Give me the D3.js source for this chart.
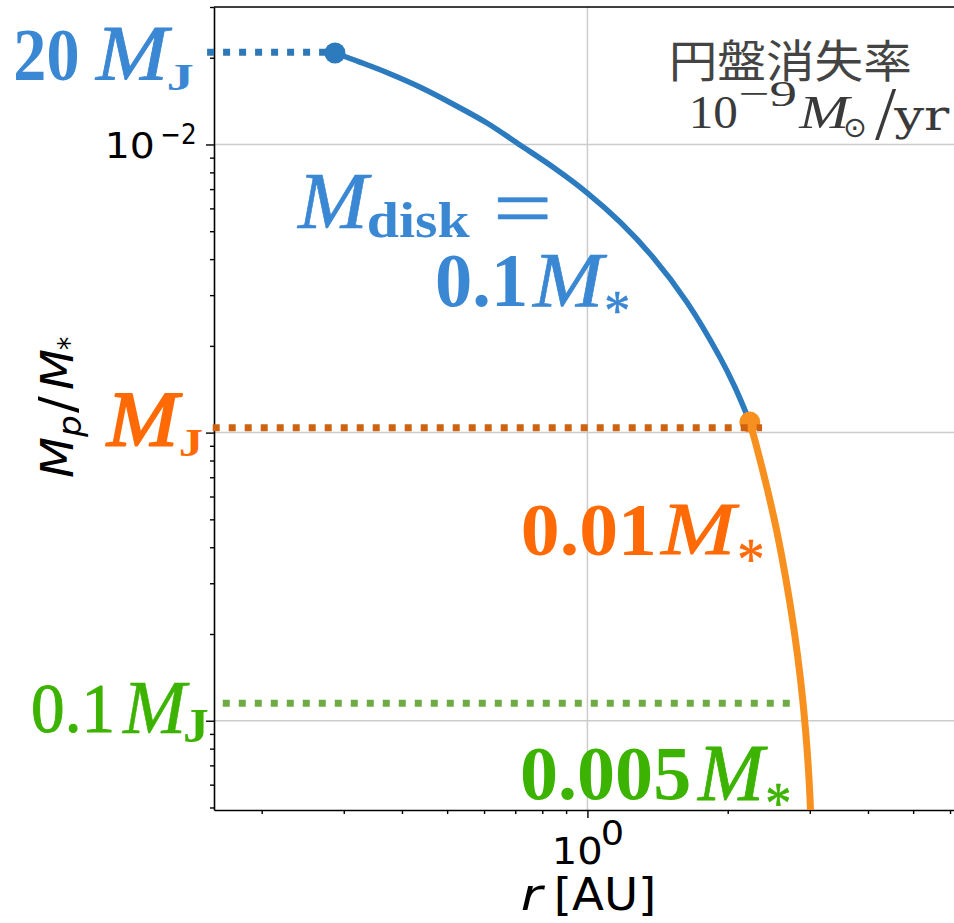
<!DOCTYPE html>
<html><head><meta charset="utf-8">
<script src="https://cdn.jsdelivr.net/npm/d3@7"></script>
<style>html,body{margin:0;padding:0;background:#fff;} svg{display:block}</style>
</head><body>
<svg id="chart" width="954" height="923"></svg>
<script>
// Planet track while the disk still holds 0.1 M* (r in AU, Mp/M*)
const blueR = [0.2873, 0.3248, 0.3711, 0.4368, 0.5142, 0.6088, 0.7167, 0.8430, 1.000, 1.175, 1.381, 1.634, 1.923, 2.072, 2.231];
const blueM = [0.02077, 0.01932, 0.01778, 0.01583, 0.01382, 0.01187, 0.00996, 0.008352, 0.006785, 0.005381, 0.004068, 0.002840, 0.001830, 0.001440, 0.001088];
// Continuation of the track once the disk has dropped to 0.01 M*
const orangeR = [2.231, 2.317, 2.435, 2.546, 2.668, 2.776, 2.867, 2.938, 2.990, 3.012];
const orangeM = [0.001088, 8.70e-4, 6.32e-4, 4.59e-4, 3.08e-4, 2.065e-4, 1.385e-4, 9.29e-5, 6.23e-5, 4.82e-5];

// Reference planet masses, drawn as dotted guides
const levelNames = ["20MJ", "MJ", "0.1MJ"];
const levelValues = [0.0209, 1.04e-3, 1.15e-4];
const levelStartR = [0.1527, 0.157, 0.165];
const levelEndR = [0.288, 2.37, 2.72];

// Axis ticks
const yMajorTicks = [1e-2, 1e-3, 1e-4];
const yTickLabels = ["10", "−2"]; // only 10^-2 is labelled
const xMajorTicks = [1];
const xTickLabels = ["10", "0"];

const W = 954, H = 923;
const svg = d3.select("#chart");
const plotLeft = 214, plotTop = 7, plotBottom = 810;

const x = d3.scaleLog().domain([0.158, 7]).range([plotLeft, plotLeft + Math.log10(7 / 0.158) * 466]);
const y = d3.scaleLog().domain([4.9e-5, 3.0e-2]).range([plotBottom, plotTop]);

// minor tick positions: 2..9 within each decade
function minorTicks(scale) {
  const [a, b] = scale.domain();
  const out = [];
  for (let e = Math.floor(Math.log10(a)); e <= Math.ceil(Math.log10(b)); e++) {
    for (let k = 2; k <= 9; k++) {
      const v = k * Math.pow(10, e);
      if (v >= a && v <= b) out.push(v);
    }
  }
  return out;
}

svg.append("defs").append("clipPath").attr("id", "plotclip")
  .append("rect").attr("x", plotLeft).attr("y", plotTop).attr("width", W - plotLeft).attr("height", plotBottom - plotTop);

// grid
const grid = svg.append("g").attr("stroke", "#cccccc").attr("stroke-width", 1.5);
grid.selectAll("line.h").data(yMajorTicks).join("line").attr("class", "h")
  .attr("x1", plotLeft).attr("x2", W).attr("y1", d => y(d)).attr("y2", d => y(d));
grid.selectAll("line.v").data(xMajorTicks).join("line").attr("class", "v")
  .attr("x1", d => x(d)).attr("x2", d => x(d)).attr("y1", plotTop).attr("y2", plotBottom);

// axes
const axL = svg.append("g").attr("transform", `translate(${plotLeft},0)`);
axL.call(d3.axisLeft(y).tickValues(yMajorTicks).tickSize(8).tickSizeOuter(0).tickFormat(""));
axL.append("g").call(d3.axisLeft(y).tickValues(minorTicks(y)).tickSize(4).tickFormat(""))
  .select(".domain").remove();
const axB = svg.append("g").attr("transform", `translate(0,${plotBottom})`);
axB.call(d3.axisBottom(x).tickValues(xMajorTicks).tickSize(8).tickSizeOuter(0).tickFormat(""));
axB.append("g").call(d3.axisBottom(x).tickValues(minorTicks(x)).tickSize(4).tickFormat(""))
  .select(".domain").remove();
svg.selectAll(".domain").attr("stroke", "#000").attr("stroke-width", 1.6);
svg.selectAll(".tick line").attr("stroke", "#000").attr("stroke-width", 1.4);
svg.append("line").attr("x1", plotLeft).attr("x2", W).attr("y1", plotTop).attr("y2", plotTop)
  .attr("stroke", "#000").attr("stroke-width", 1.6);

// tracks
const line = d3.line().x(d => x(d[0])).y(d => y(d[1])).curve(d3.curveCatmullRom.alpha(0.5));
const plot = svg.append("g").attr("clip-path", "url(#plotclip)");
plot.append("path").datum(d3.zip(blueR, blueM)).attr("d", line)
  .attr("fill", "none").attr("stroke", "#2c7bbf").attr("stroke-width", 5.5);
plot.append("path").datum(d3.zip(orangeR, orangeM)).attr("d", line)
  .attr("fill", "none").attr("stroke", "#f7901e").attr("stroke-width", 7);

// markers at the start of each track
plot.append("circle").attr("cx", x(blueR[0])).attr("cy", y(blueM[0])).attr("r", 10.5).attr("fill", "#2c7bbf");
plot.append("circle").attr("cx", x(orangeR[0])).attr("cy", y(orangeM[0])).attr("r", 10.5).attr("fill", "#f7901e");

// dotted mass guides
const guideColors = ["#2f78b6", "#cf6210", "#6fab45"];
svg.append("g").selectAll("line").data(levelValues).join("line")
  .attr("x1", (d, i) => x(levelStartR[i])).attr("x2", (d, i) => x(levelEndR[i]))
  .attr("y1", d => y(d)).attr("y2", d => y(d))
  .attr("stroke", (d, i) => guideColors[i]).attr("stroke-width", 7)
  .attr("stroke-dasharray", "7,9");

// ---- text: each run is sized so its inked glyphs fill a given box ----
const ctx = document.createElement("canvas").getContext("2d");
function ink(str, st, wt, size, fam) {
  ctx.font = `${st} ${wt} ${size}px ${fam}`;
  const m = ctx.measureText(str);
  return {l: -m.actualBoundingBoxLeft, r: m.actualBoundingBoxRight,
          t: -m.actualBoundingBoxAscent, b: m.actualBoundingBoxDescent, w: m.width};
}
const SERIF = "'Liberation Serif', serif";
const SANS = "'DejaVu Sans', sans-serif";
// box = [left, right, top, bottom] of the ink; with u set, only the height is fitted
function label(parent, runs, fill, family) {
  const t = parent.append("text").attr("fill", fill);
  runs.forEach(r => {
    const fam = r.f || family;
    const st = r.it ? "italic" : "normal", wt = r.b ? "bold" : "normal";
    const m0 = ink(r.t, st, wt, 100, fam);
    const size = 100 * (r.box[3] - r.box[2]) / (m0.b - m0.t);
    const m = ink(r.t, st, wt, size, fam);
    const k = r.u ? 1 : (r.box[1] - r.box[0]) / (m.r - m.l);
    const s = t.append("tspan").text(r.t)
      .attr("x", r.box[0] - k * m.l).attr("y", r.box[2] - m.t)
      .style("font-family", fam).style("font-size", size + "px")
      .style("font-style", st).style("font-weight", wt);
    if (!r.u) s.attr("textLength", k * m.w).attr("lengthAdjust", "spacingAndGlyphs");
    if (r.sw) s.attr("stroke", fill).attr("stroke-width", r.sw).attr("stroke-linejoin", "round");
  });
  return t;
}

const labels = svg.append("g");
const BLUE = "#3a87d3", ORANGE = "#ff6a06", GREEN = "#3cb300";

// mass-level labels on the left
label(labels, [
  {t: "20", b: 1, box: [16, 77, 30, 80]},
  {t: "M", it: 1, box: [95, 173, 28, 80], sw: 0.8},
  {t: "J", b: 1, box: [168, 193, 65, 90]}], BLUE, SERIF);
label(labels, [
  {t: "M", it: 1, box: [106, 183, 394, 446], sw: 1.8},
  {t: "J", b: 1, box: [180, 203, 430, 457]}], ORANGE, SERIF);
label(labels, [
  {t: "0.1", box: [33, 112, 685, 733], sw: 1.0},
  {t: "M", it: 1, box: [122, 190, 683, 733], sw: 0.5},
  {t: "J", b: 1, box: [185, 208, 710, 743]}], GREEN, SERIF);

// disk-mass labels beside each track
label(labels, [
  {t: "M", it: 1, box: [297, 372, 175, 228], sw: 0.6},
  {t: "disk", b: 1, box: [369, 470, 202, 238]},
  {t: "=", box: [498, 548, 197, 218], sw: 0.6}], BLUE, SERIF);
label(labels, [
  {t: "0.1", b: 1, box: [437, 525, 255, 307]},
  {t: "M", it: 1, box: [532, 608, 255, 307], sw: 0.7},
  {t: "*", box: [606, 628, 292, 313], sw: 0.6}], BLUE, SERIF);
label(labels, [
  {t: "0.01", b: 1, box: [523, 653, 505, 555]},
  {t: "M", it: 1, box: [660, 740, 505, 554], sw: 1.0},
  {t: "*", box: [739, 762, 540, 562], sw: 0.6}], ORANGE, SERIF);
label(labels, [
  {t: "0.005", b: 1, box: [522, 689, 748, 800]},
  {t: "M", it: 1, box: [697, 768, 747, 800], sw: 0.8},
  {t: "*", box: [767, 789, 784, 806], sw: 0.6}], GREEN, SERIF);

// disk dispersal rate note
label(labels, [{t: "円盤消失率", box: [673, 910, 39, 82]}], "#444444", "'Noto Sans CJK JP', sans-serif");
label(labels, [
  {t: "10", box: [693, 737, 97, 128]},
  {t: "−9", box: [740, 795, 82, 107]},
  {t: "M", it: 1, box: [798, 853, 97, 128]},
  {t: "⊙", box: [845, 865, 118, 137], f: SANS},
  {t: "/", u: 1, box: [875, 890, 89, 140]},
  {t: "yr", box: [893, 950, 107, 139], f: "'DejaVu Serif', serif"}], "#3a3a3a", SERIF);

// tick labels
label(labels, [
  {t: yTickLabels[0], box: [108, 153, 132, 159]},
  {t: yTickLabels[1], box: [162, 195, 123, 144]}], "#000", SANS);
label(labels, [
  {t: xTickLabels[0], box: [556, 600, 836, 864]},
  {t: xTickLabels[1], box: [603, 622, 820, 845]}], "#000", SANS);

// axis titles
label(labels, [
  {t: "r", it: 1, box: [522, 546, 885, 910]},
  {t: "[AU]", box: [557, 653, 876, 915]}], "#000", SANS);
const yl = labels.append("g").attr("transform", "rotate(-90)");
// local coordinates of the rotated frame: u = -screenY, v = screenX
label(yl, [
  {t: "M", it: 1, box: [-477, -438, 40, 73]},
  {t: "p", it: 1, box: [-438, -416, 63, 87]},
  {t: "/", u: 1, box: [-413, -390, 38, 79]},
  {t: "M", it: 1, box: [-389, -350, 40, 73]},
  {t: "*", box: [-350, -337, 57, 71]}], "#000", SANS);
</script>
</body></html>
